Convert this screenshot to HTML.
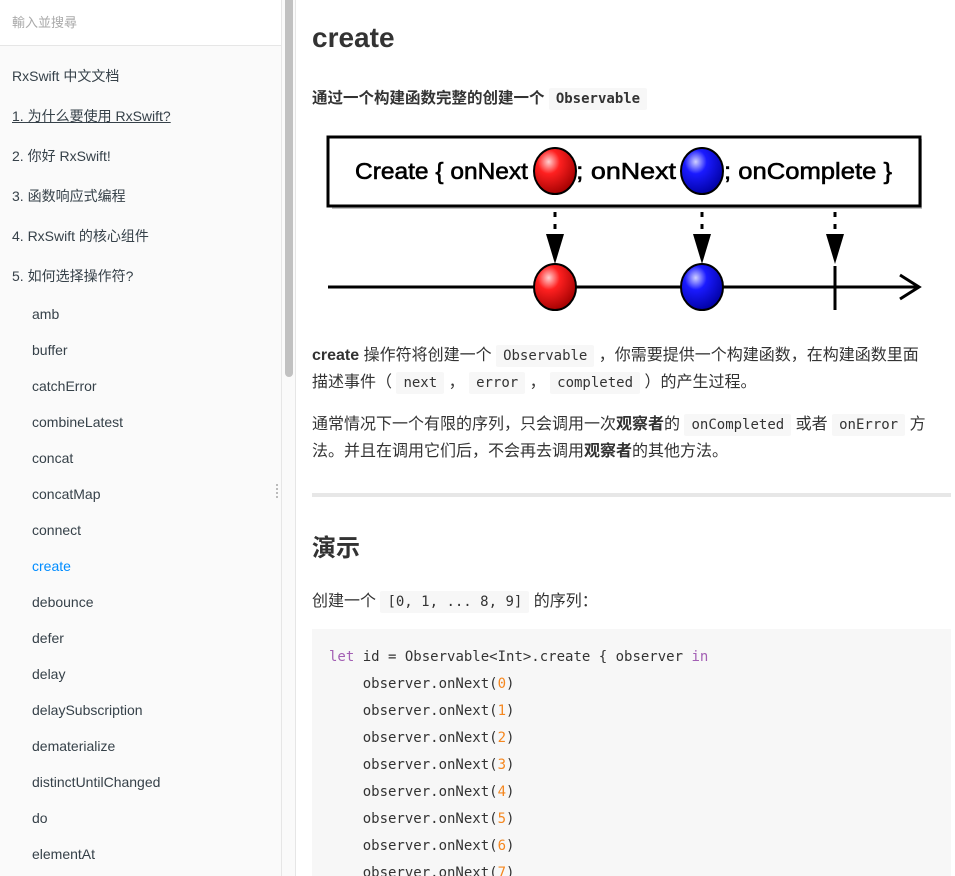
<!DOCTYPE html>
<html><head><meta charset="utf-8"><style>
*{margin:0;padding:0;box-sizing:border-box}
html,body{width:955px;height:876px;overflow:hidden}
body{background:#fff;position:relative;font-family:"Liberation Sans","Noto Sans CJK SC",sans-serif;color:#333}
.sb{position:absolute;left:0;top:0;width:282px;height:876px;background:#fafafa;border-right:1px solid #e6e6e6}
.search{position:absolute;left:0;top:0;width:281px;height:46px;background:#fff;border-bottom:1px solid #e6e6e6;font-size:13px;color:#aaa;padding:12px 0 0 12px}
.it{position:absolute;font-size:14px;color:#364149;white-space:nowrap;line-height:18px}
.track{position:absolute;left:282px;top:0;width:14px;height:876px;background:#fafafa;border-right:1px solid #e6e6e6}
.thumb{position:absolute;left:285px;top:0;width:8px;height:377px;background:#c1c1c1;border-radius:0 0 4px 4px}
.t{position:absolute;white-space:nowrap;font-size:16px;line-height:20px;color:#333}
code{font-family:"DejaVu Sans Mono","Liberation Mono",monospace;font-size:14px;background:#f7f7f7;padding:3px 7px;border-radius:2px}
.code{position:absolute;left:312px;top:629px;width:639px;height:247px;background:#f7f7f7}
.cl{position:absolute;font-family:"DejaVu Sans Mono","Liberation Mono",monospace;font-size:14px;color:#333;white-space:pre;line-height:18px}
.k{color:#a35fb4}.n{color:#f5871f}
</style></head><body>
<div class="sb"></div>
<div class="search">輸入並搜尋</div>
<div class="it" style="left:12px;top:67px">RxSwift 中文文档</div>
<div class="it" style="left:12px;top:107px;text-decoration:underline">1. 为什么要使用 RxSwift?</div>
<div class="it" style="left:12px;top:147px">2. 你好 RxSwift!</div>
<div class="it" style="left:12px;top:187px">3. 函数响应式编程</div>
<div class="it" style="left:12px;top:227px">4. RxSwift 的核心组件</div>
<div class="it" style="left:12px;top:267px">5. 如何选择操作符?</div>
<div class="it" style="left:32px;top:305px">amb</div>
<div class="it" style="left:32px;top:341px">buffer</div>
<div class="it" style="left:32px;top:377px">catchError</div>
<div class="it" style="left:32px;top:413px">combineLatest</div>
<div class="it" style="left:32px;top:449px">concat</div>
<div class="it" style="left:32px;top:485px">concatMap</div>
<div class="it" style="left:32px;top:521px">connect</div>
<div class="it" style="left:32px;top:557px;color:#008cff">create</div>
<div class="it" style="left:32px;top:593px">debounce</div>
<div class="it" style="left:32px;top:629px">defer</div>
<div class="it" style="left:32px;top:665px">delay</div>
<div class="it" style="left:32px;top:701px">delaySubscription</div>
<div class="it" style="left:32px;top:737px">dematerialize</div>
<div class="it" style="left:32px;top:773px">distinctUntilChanged</div>
<div class="it" style="left:32px;top:809px">do</div>
<div class="it" style="left:32px;top:845px">elementAt</div>
<div style="position:absolute;left:276px;top:484px;width:3px;height:14px;border-left:2px dotted #bbb"></div>
<div class="track"></div><div class="thumb"></div>

<div class="t" style="left:312px;top:20px;font-size:28px;line-height:36px;font-weight:bold">create</div>
<div class="t" style="left:312px;top:89px;font-weight:bold;font-size:15.5px">通过一个构建函数完整的创建一个 <code style="font-weight:bold">Observable</code></div>

<svg style="position:absolute;left:320px;top:128px" width="610" height="200">
<defs>
<radialGradient id="r" cx="0.35" cy="0.3" r="0.75"><stop offset="0" stop-color="#ffd0d0"/><stop offset="0.35" stop-color="#ff2020"/><stop offset="1" stop-color="#a00000"/></radialGradient>
<radialGradient id="b" cx="0.35" cy="0.3" r="0.75"><stop offset="0" stop-color="#d0d0ff"/><stop offset="0.35" stop-color="#1a1aff"/><stop offset="1" stop-color="#0000a0"/></radialGradient>
</defs>
<rect x="12" y="11" width="590" height="70" fill="#666" opacity="0.4"/>
<rect x="8" y="9" width="592" height="69" fill="#fff" stroke="#000" stroke-width="3"/>
<g font-family="Liberation Sans,sans-serif" font-size="23" fill="#000" stroke="#000" stroke-width="0.6">
<text x="35" y="51" textLength="173" lengthAdjust="spacingAndGlyphs">Create { onNext</text>
<text x="256" y="51" textLength="100" lengthAdjust="spacingAndGlyphs">; onNext</text>
<text x="404" y="51" textLength="168" lengthAdjust="spacingAndGlyphs">; onComplete }</text>
</g>
<ellipse cx="235" cy="43" rx="21" ry="23" fill="url(#r)" stroke="#000" stroke-width="2"/>
<ellipse cx="382" cy="43" rx="21" ry="23" fill="url(#b)" stroke="#000" stroke-width="2"/>
<g stroke="#000" stroke-width="3" stroke-dasharray="5,7">
<line x1="235" y1="84" x2="235" y2="110"/><line x1="382" y1="84" x2="382" y2="110"/><line x1="515" y1="84" x2="515" y2="110"/></g>
<polygon points="226,106 244,106 235,136" fill="#000"/>
<polygon points="373,106 391,106 382,136" fill="#000"/>
<polygon points="506,106 524,106 515,136" fill="#000"/>
<line x1="8" y1="159" x2="598" y2="159" stroke="#000" stroke-width="3"/>
<polyline points="580,147 599,159 580,171" fill="none" stroke="#000" stroke-width="3"/>
<line x1="515" y1="138" x2="515" y2="182" stroke="#000" stroke-width="3"/>
<ellipse cx="235" cy="159" rx="21" ry="23" fill="url(#r)" stroke="#000" stroke-width="2"/>
<ellipse cx="382" cy="159" rx="21" ry="23" fill="url(#b)" stroke="#000" stroke-width="2"/>
</svg>

<div class="t" style="left:312px;top:346px"><b>create</b> 操作符将创建一个 <code>Observable</code> ，你需要提供一个构建函数，在构建函数里面</div>
<div class="t" style="left:312px;top:373px">描述事件（ <code>next</code> ， <code>error</code> ， <code>completed</code> ）的产生过程。</div>
<div class="t" style="left:312px;top:415px">通常情况下一个有限的序列，只会调用一次<b>观察者</b>的 <code>onCompleted</code> 或者 <code>onError</code> 方</div>
<div class="t" style="left:312px;top:442px">法。并且在调用它们后，不会再去调用<b>观察者</b>的其他方法。</div>
<div style="position:absolute;left:312px;top:493px;width:639px;height:4px;background:#e7e7e7"></div>
<div class="t" style="left:312px;top:534px;font-size:24px;line-height:30px;font-weight:bold">演示</div>
<div class="t" style="left:312px;top:592px">创建一个 <code>[0, 1, ... 8, 9]</code> 的序列：</div>
<div class="code"></div>
<div class="cl" style="left:329px;top:648px"><span class="k">let</span> id = Observable&lt;Int&gt;.create { observer <span class="k">in</span></div>
<div class="cl" style="left:329px;top:675px">    observer.onNext(<span class="n">0</span>)</div>
<div class="cl" style="left:329px;top:702px">    observer.onNext(<span class="n">1</span>)</div>
<div class="cl" style="left:329px;top:729px">    observer.onNext(<span class="n">2</span>)</div>
<div class="cl" style="left:329px;top:756px">    observer.onNext(<span class="n">3</span>)</div>
<div class="cl" style="left:329px;top:783px">    observer.onNext(<span class="n">4</span>)</div>
<div class="cl" style="left:329px;top:810px">    observer.onNext(<span class="n">5</span>)</div>
<div class="cl" style="left:329px;top:837px">    observer.onNext(<span class="n">6</span>)</div>
<div class="cl" style="left:329px;top:864px">    observer.onNext(<span class="n">7</span>)</div>
</body></html>
